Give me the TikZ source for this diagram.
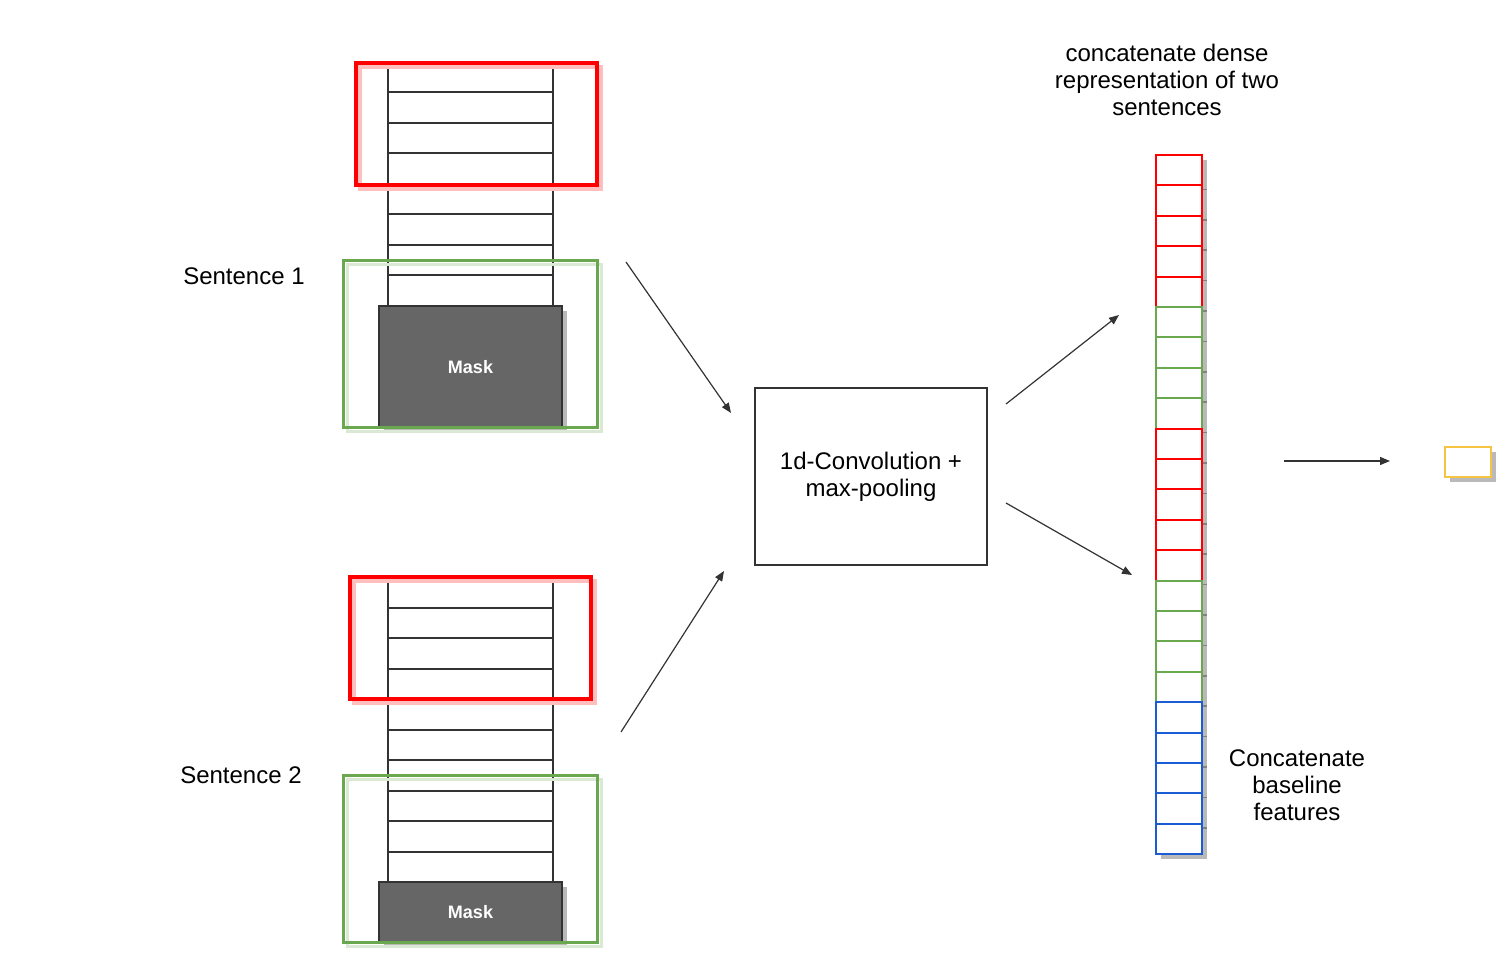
\documentclass[tikz,border=0pt]{standalone}
\usepackage{fontspec}
\setmainfont{Liberation Sans}
\usetikzlibrary{arrows.meta}

\definecolor{cred}{RGB}{255,0,0}
\definecolor{cgreen}{RGB}{106,168,79}
\definecolor{cblue}{RGB}{26,92,212}
\definecolor{cyellow}{RGB}{246,195,66}
\definecolor{cdark}{RGB}{51,51,51}
\definecolor{cmask}{RGB}{102,102,102}
\definecolor{cshadow}{RGB}{185,185,185}

\tikzset{
  cell/.style={draw=cdark,line width=1pt},
  redwin/.style={draw=cred,line width=2pt},
  greenwin/.style={draw=cgreen,line width=1.5pt},
  vec/.style={line width=1pt,fill=white},
  flow/.style={draw=cdark,line width=0.6pt,-{Triangle[length=5pt,width=4pt]}},
  lbl/.style={inner sep=0.75pt,align=center,font=\fontsize{12}{13.5}\selectfont},
  maskbox/.style={draw=cdark,fill=cmask,line width=1pt,text=white,font=\fontsize{9}{10}\selectfont\bfseries,minimum width=91.5pt,inner sep=0pt}
}

\begin{document}
\begin{tikzpicture}[x=0.5pt,y=0.5pt,yscale=-1,xscale=1]
    \useasboundingbox (0,0) rectangle (1510,962);

    %Stack: sentence 1
    \foreach \i in {0,...,7} \draw[cell] (388,{62+30.5*\i}) rectangle (553,{92.5+30.5*\i});
    %Mask 1 (shadow, then box)
    \fill[cshadow] (384,311) rectangle (567,433);
    \node[maskbox,minimum height=61pt] (mask1) at (470.5,367) {Mask};
    %Windows 1
    \draw[redwin,draw=cred!25] (360,67) rectangle (601,189);
    \draw[redwin] (356,63) rectangle (597,185);
    \draw[greenwin,draw=cgreen!25] (347,265) rectangle (601,432);
    \draw[greenwin] (343,261) rectangle (597,428);

    %Stack: sentence 2
    \foreach \i in {0,...,9} \draw[cell] (388,{577+30.5*\i}) rectangle (553,{607.5+30.5*\i});
    %Mask 2 (shadow, then box)
    \fill[cshadow] (384,887) rectangle (567,947);
    \node[maskbox,minimum height=30pt] (mask2) at (470.5,912) {Mask};
    %Windows 2
    \draw[redwin,draw=cred!25] (354,581) rectangle (595,703);
    \draw[redwin] (350,577) rectangle (591,699);
    \draw[greenwin,draw=cgreen!25] (347,779) rectangle (601,946);
    \draw[greenwin] (343,775) rectangle (597,942);

    %Convolution box
    \node[draw=cdark,line width=1pt,minimum width=116pt,minimum height=88.5pt,lbl] (conv) at (871,476.5) {1d-Convolution +\\max-pooling};

    %Concatenated vector (shadow, then cells)
    \fill[cshadow] (1161,160) rectangle (1207,859);
    \foreach \i in {1,...,22} \draw[cshadow!70!black,line width=0.8pt] (1203,{159+30.4*\i}) -- (1207,{159+30.4*\i});
    \foreach \i in {0,...,4} \draw[vec,draw=cred] (1156,{155+30.4*\i}) rectangle (1202,{185.4+30.4*\i});
    \foreach \i in {5,...,8} \draw[vec,draw=cgreen] (1156,{155+30.4*\i}) rectangle (1202,{185.4+30.4*\i});
    \foreach \i in {9,...,13} \draw[vec,draw=cred] (1156,{155+30.4*\i}) rectangle (1202,{185.4+30.4*\i});
    \foreach \i in {14,...,17} \draw[vec,draw=cgreen] (1156,{155+30.4*\i}) rectangle (1202,{185.4+30.4*\i});
    \foreach \i in {18,...,22} \draw[vec,draw=cblue] (1156,{155+30.4*\i}) rectangle (1202,{185.4+30.4*\i});

    %Output box
    \fill[cshadow] (1450,452) rectangle (1496,482);
    \node[draw=cyellow,fill=white,line width=1pt,minimum width=23pt,minimum height=15pt,inner sep=0pt] (out) at (1468,462) {};

    %Arrow ends
    \coordinate (s1end) at (626,262);
    \coordinate (conv1) at (731,413);
    \coordinate (s2end) at (621,732);
    \coordinate (conv2) at (724,571);
    \coordinate (convup) at (1006,404);
    \coordinate (vecup) at (1119,315);
    \coordinate (convdn) at (1006,503);
    \coordinate (vecdn) at (1132,575);
    \coordinate (vecout) at (1284,461);
    \coordinate (outin) at (1390,461);

    \draw[flow] (s1end) -- (conv1);
    \draw[flow] (s2end) -- (conv2);
    \draw[flow] (convup) -- (vecup);
    \draw[flow] (convdn) -- (vecdn);
    \draw[flow] (vecout) -- (outin);

    % Text Node
    \node[lbl] (sent1) at (244,276) {Sentence 1};
    % Text Node
    \node[lbl] (sent2) at (241,775) {Sentence 2};
    % Text Node
    \node[lbl] (concat) at (1167,80) {concatenate dense\\representation of two\\sentences};
    % Text Node
    \node[lbl] (base) at (1297,785) {Concatenate\\baseline\\features};
\end{tikzpicture}
\end{document}
